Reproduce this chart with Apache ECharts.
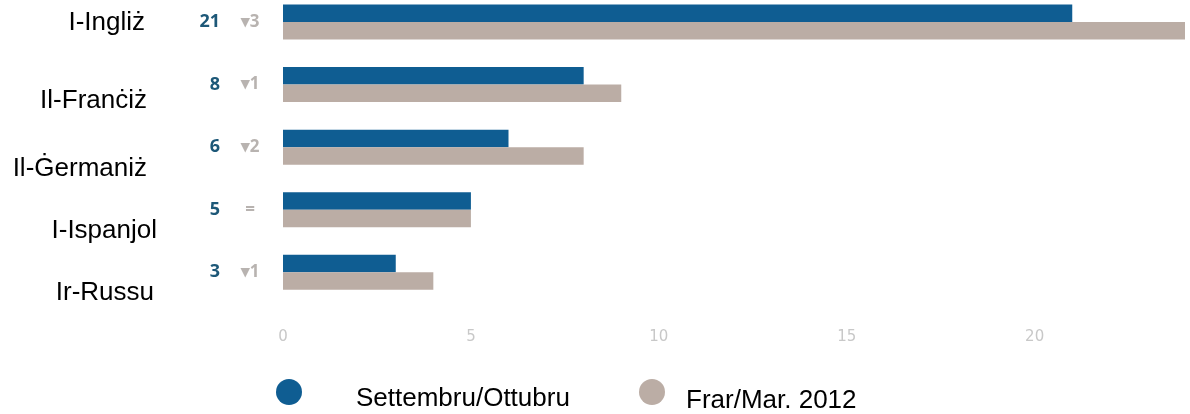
<!DOCTYPE html>
<html style="height: 100%">
    <head>
        <title>Lingwi</title>
        <meta charset="utf-8">
    </head>
    <body style="height: 100%; margin: 0; background: #fff">
        <div id="container" style="width: 1190px; height: 414px"></div>

        <script type="text/javascript" src="https://cdn.jsdelivr.net/npm/echarts@6.0.0/dist/echarts.min.js"></script>
        <script type="text/javascript">
            var categories = ['I-Ingliż', 'Il-Franċiż', 'Il-Ġermaniż', 'I-Ispanjol', 'Ir-Russu'];
            var seriesNames = ['Settembru/Ottubru', 'Frar/Mar. 2012'];
            var septOct = [21, 8, 6, 5, 3];
            var febMar = [24, 9, 8, 5, 4];
            var xTicks = [0, 5, 10, 15, 20];

            // labels on the left are pasted a bit off the bars, so each gets its own nudge
            var labelNudge = [
                { padding: [2, 12, 0, 0] },
                { padding: [32, 10, 0, 0] },
                { padding: [44, 10, 0, 0] },
                { padding: [43, 0, 0, 0] },
                { padding: [42, 3, 0, 0] }
            ];
            var rich = {};
            labelNudge.forEach(function (s, i) {
                rich['c' + i] = s;
            });

            function deltaText(i) {
                var d = febMar[i] - septOct[i];
                if (d === 0) return '=';
                return (d > 0 ? '▾' : '▴') + Math.abs(d);
            }

            function legendBox(name, left, pad) {
                return {
                    data: [name],
                    left: left, top: 379, padding: 0,
                    icon: 'circle', itemWidth: 26, itemHeight: 26,
                    formatter: '{t|{name}}',
                    textStyle: {
                        fontFamily: 'Liberation Sans', fontSize: 26, color: '#000',
                        rich: { t: { fontFamily: 'Liberation Sans', fontSize: 26, color: '#000', padding: pad } }
                    }
                };
            }

            var hidden = { show: false };
            var dom = document.getElementById("container");
            var myChart = echarts.init(dom);

            var option = {
                animation: false,
                grid: { left: 283, right: 5, top: -9.25, bottom: 110.5, outerBoundsMode: 'none' },
                legend: [
                    legendBox(seriesNames[0], 276, [14, 0, 0, 49]),
                    legendBox(seriesNames[1], 639, [18, 0, 0, 16])
                ],
                xAxis: {
                    type: 'value',
                    min: 0, max: 24, interval: 5,
                    axisLine: hidden, axisTick: hidden, splitLine: hidden,
                    axisLabel: {
                        margin: 26, showMaxLabel: false,
                        fontFamily: 'DejaVu Sans', fontSize: 15, color: '#c8c8c8',
                        formatter: function (v) { return xTicks.indexOf(v) >= 0 ? String(v) : ''; }
                    }
                },
                yAxis: [
                    {
                        type: 'category', data: categories, inverse: true,
                        axisLine: hidden, axisTick: hidden, splitLine: hidden,
                        axisLabel: {
                            interval: 0, margin: 126,
                            fontFamily: 'Liberation Sans', fontSize: 26, color: '#000',
                            formatter: function (v, i) { return '{c' + i + '|' + v + '}'; },
                            rich: rich
                        }
                    },
                    {
                        type: 'category', data: categories, inverse: true, position: 'left',
                        axisLine: hidden, axisTick: hidden, splitLine: hidden,
                        axisLabel: {
                            interval: 0, margin: 63,
                            fontFamily: 'Open Sans', fontWeight: 'bold', fontSize: 18, color: '#1d5878',
                            formatter: function (v, i) { return String(septOct[i]); }
                        }
                    },
                    {
                        type: 'category', data: categories, inverse: true, position: 'left',
                        axisLine: hidden, axisTick: hidden, splitLine: hidden,
                        axisLabel: {
                            interval: 0, margin: 33, align: 'center',
                            fontFamily: 'Open Sans', fontWeight: 'bold', fontSize: 17, color: '#b8b3b0',
                            formatter: function (v, i) { return deltaText(i); }
                        }
                    }
                ],
                series: [
                    {
                        name: seriesNames[0], type: 'bar', data: septOct,
                        barWidth: 17.5, barGap: 0,
                        itemStyle: { color: '#0f5d92' }
                    },
                    {
                        name: seriesNames[1], type: 'bar', data: febMar,
                        barWidth: 17.5, barGap: 0,
                        itemStyle: { color: '#bbada5' }
                    }
                ]
            };

            myChart.setOption(option);
            window.onresize = function () {
                myChart.resize();
            };
        </script>
    </body>
</html>
